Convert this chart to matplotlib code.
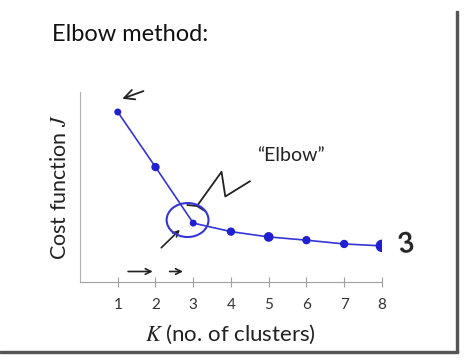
import matplotlib.pyplot as plt
from matplotlib.patches import Ellipse, Rectangle

# values
k_values = [1, 2, 3, 4, 5, 6, 7, 8]
cost_j = [8.95, 6.05, 3.1, 2.65, 2.37, 2.2, 2.0, 1.9]
marker_sizes = [4, 5, 4, 5, 6, 5, 5, 8]
tick_labels = ["1", "2", "3", "4", "5", "6", "7", "8"]

plt.rcParams['font.family'] = ['Lato', 'DejaVu Sans']
plt.rcParams['mathtext.fontset'] = 'stix'

fig = plt.figure(figsize=(4.68, 3.61), dpi=100)
fig.patch.set_facecolor("white")

# slide frame (right + bottom edge)
fig.patches.append(Rectangle((0.975, 0.025), 0.004, 0.945, transform=fig.transFigure,
                             color="#555555", zorder=5))
fig.patches.append(Rectangle((0.0, 0.022), 0.979, 0.006, transform=fig.transFigure,
                             color="#555555", zorder=5))

ax = fig.add_axes([0.171, 0.219, 0.645, 0.526])
ax.set_xlim(0, 8)
ax.set_ylim(0, 10)

ax.plot(k_values, cost_j, color="#3535d5", lw=1.2, zorder=3)
ax.scatter(k_values, cost_j, s=[m ** 2 for m in marker_sizes], color="#2020d0", zorder=4)

for side in ["top", "right"]:
    ax.spines[side].set_visible(False)
ax.spines["left"].set_color("#b0b0b0")
ax.spines["bottom"].set_color("#a0a0a0")
ax.set_yticks([])
ax.set_xticks(k_values)
ax.set_xticklabels(tick_labels, fontsize=11, color="#333333")
ax.tick_params(axis="x", direction="inout", length=7, color="#a0a0a0", pad=8)

ax.set_xlabel(r"$K$ (no. of clusters)", fontsize=16, color="#222222", labelpad=8)
ax.set_ylabel(r"Cost function $J$", fontsize=15.5, color="#222222", labelpad=7)

fig.text(0.111, 0.905, "Elbow method:", fontsize=17, color="#111111", va="center")

# hand-drawn style annotations
ax.add_patch(Ellipse((2.85, 3.26), 1.11, 1.79, fill=False, ec="#3535d5", lw=1.5, zorder=4))
ax.text(5.6, 6.35, "\u201cElbow\u201d", fontsize=14, color="#222222", ha="center")
ax.plot([3.1, 3.75, 3.85, 4.5], [4.0, 5.8, 4.5, 5.3], color="#222222", lw=1.3)
ax.plot([2.85, 3.1, 3.3], [4.05, 4.0, 3.75], color="#222222", lw=1.3)
ax.annotate("", xy=(2.7, 2.85), xytext=(2.1, 1.7),
            arrowprops=dict(arrowstyle="->", color="#222222", lw=1.2))
ax.annotate("", xy=(1.05, 9.6), xytext=(1.75, 10.1), annotation_clip=False,
            arrowprops=dict(arrowstyle="->", color="#222222", lw=1.3, mutation_scale=18))
ax.annotate("", xy=(2.0, 0.55), xytext=(1.2, 0.55),
            arrowprops=dict(arrowstyle="->", color="#222222", lw=1.2))
ax.annotate("", xy=(2.8, 0.55), xytext=(2.3, 0.55),
            arrowprops=dict(arrowstyle="->", color="#222222", lw=1.2))
ax.text(8.35, 1.95, "3", fontsize=20, color="#222222", va="center", rotation=10,
        fontweight="bold")

fig.savefig("out.png", dpi=100)
